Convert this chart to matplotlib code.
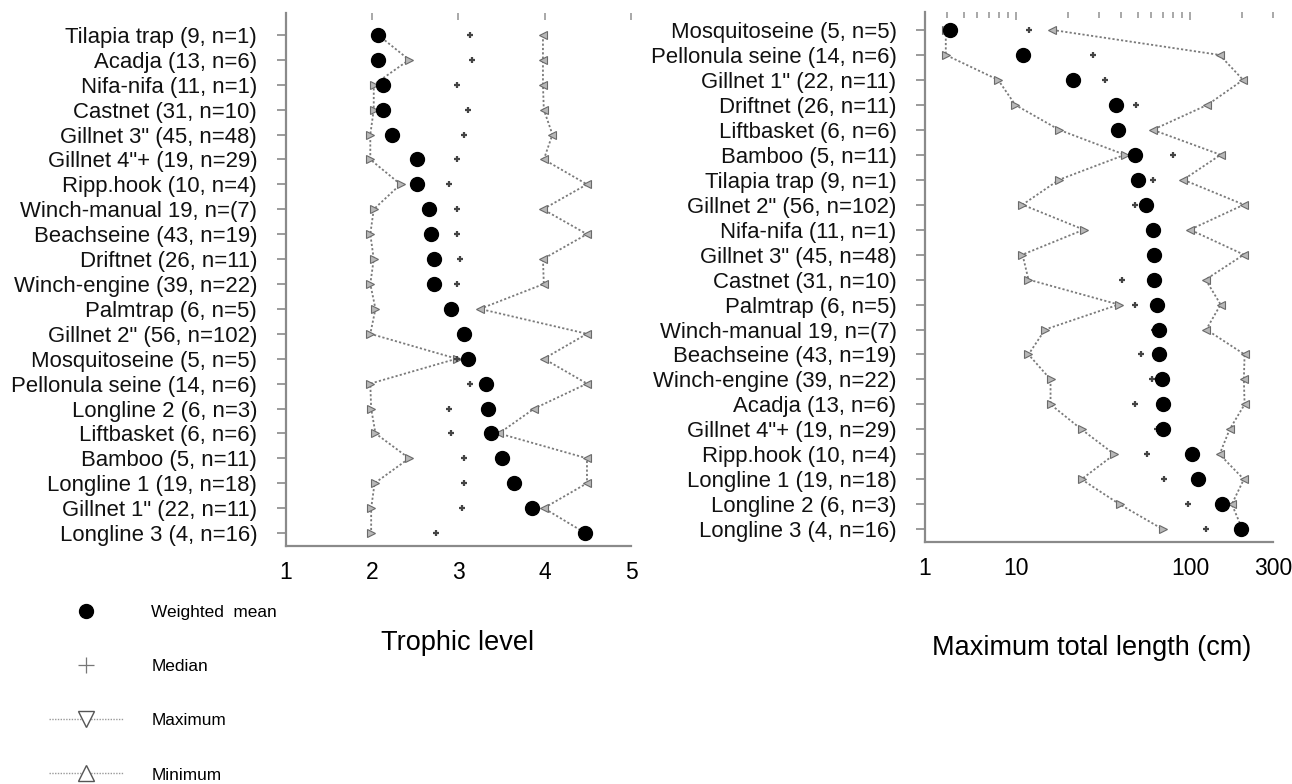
import matplotlib
matplotlib.use("Agg")
import matplotlib.pyplot as plt
from matplotlib.lines import Line2D
import numpy as np

plt.rcParams['font.family'] = ['Liberation Sans', 'DejaVu Sans']

# ---------------- data: trophic level ----------------
tl_labels = ['Tilapia trap (9, n=1)', 'Acadja (13, n=6)', 'Nifa-nifa (11, n=1)', 'Castnet (31, n=10)',
             'Gillnet 3" (45, n=48)', 'Gillnet 4"+ (19, n=29)', 'Ripp.hook (10, n=4)', 'Winch-manual 19, n=(7)',
             'Beachseine (43, n=19)', 'Driftnet (26, n=11)', 'Winch-engine (39, n=22)', 'Palmtrap (6, n=5)',
             'Gillnet 2" (56, n=102)', 'Mosquitoseine (5, n=5)', 'Pellonula seine (14, n=6)', 'Longline 2 (6, n=3)',
             'Liftbasket (6, n=6)', 'Bamboo (5, n=11)', 'Longline 1 (19, n=18)', 'Gillnet 1" (22, n=11)',
             'Longline 3 (4, n=16)']
tl_mean = [2.07, 2.07, 2.13, 2.13, 2.23, 2.52, 2.52, 2.66, 2.68, 2.72, 2.72, 2.92, 3.07, 3.11, 3.32, 3.34,
           3.38, 3.51, 3.65, 3.85, 4.47]
tl_median = [3.13, 3.16, 2.99, 3.11, 3.07, 2.99, 2.89, 2.99, 2.99, 3.02, 2.99, 2.92, 3.07, 2.98, 3.13, 2.89,
             2.91, 3.07, 3.07, 3.04, 2.74]
tl_min = [2.07, 2.43, 2.02, 2.02, 1.98, 1.98, 2.33, 2.02, 1.98, 2.02, 1.98, 2.04, 1.98, 2.98, 1.98, 1.99,
          2.04, 2.43, 2.03, 1.99, 1.99]
tl_max = [3.98, 3.98, 3.98, 3.99, 4.09, 3.99, 4.49, 3.98, 4.49, 3.98, 3.99, 3.25, 4.49, 3.99, 4.49, 3.88,
          3.47, 4.49, 4.49, 3.99, 4.47]
tl_ticks = [1, 2, 3, 4, 5]

# ---------------- data: maximum total length ----------------
ml_labels = ['Mosquitoseine (5, n=5)', 'Pellonula seine (14, n=6)', 'Gillnet 1" (22, n=11)', 'Driftnet (26, n=11)',
             'Liftbasket (6, n=6)', 'Bamboo (5, n=11)', 'Tilapia trap (9, n=1)', 'Gillnet 2" (56, n=102)',
             'Nifa-nifa (11, n=1)', 'Gillnet 3" (45, n=48)', 'Castnet (31, n=10)', 'Palmtrap (6, n=5)',
             'Winch-manual 19, n=(7)', 'Beachseine (43, n=19)', 'Winch-engine (39, n=22)', 'Acadja (13, n=6)',
             'Gillnet 4"+ (19, n=29)', 'Ripp.hook (10, n=4)', 'Longline 1 (19, n=18)', 'Longline 2 (6, n=3)',
             'Longline 3 (4, n=16)']
ml_mean = [4.2, 11.0, 21.3, 37.6, 38.5, 48.5, 50, 56.1, 61.1, 62, 62.5, 64.7, 66.5, 66.5, 68.9, 69.7, 70.3,
           103, 110.7, 153.5, 197]
ml_median = [11.9, 27.8, 32.4, 48.9, 38.5, 79.6, 61, 48.5, 61.1, 62, 40.6, 48.5, 62, 52.5, 60.4, 48.5, 65,
             56.5, 71, 97.7, 124]
ml_min = [3.95, 3.95, 7.9, 9.9, 17.7, 42.2, 17.7, 10.9, 24.5, 10.9, 11.8, 38.9, 14.7, 11.8, 15.8, 15.8, 23.8,
          36.8, 23.8, 39.4, 69.7]
ml_max = [16.2, 148, 202, 126, 61.1, 150, 91.5, 204, 100, 204, 123, 150, 124, 206, 204, 206, 169, 148, 204,
          174, 200]
ml_tick_pos = [3, 10, 100, 300]
ml_tick_lab = ['1', '10', '100', '300']
ml_top_major = [10, 100]
ml_top_minor = [4, 5, 6, 7, 8, 9, 20, 30, 40, 50, 60, 70, 80, 90, 200, 300]

W, H = 1292, 784
fig = plt.figure(figsize=(W / 100, H / 100), dpi=100)

SPINE = '#8a8a8a'
LINEC = '#7a7a7a'
TRI_FACE = '#b8b8b8'
TRI_EDGE = '#6a6a6a'


def draw_panel(ax, labels, mean, median, vmin, vmax):
    y = np.arange(len(labels))
    ax.plot(vmin, y, linestyle=(0, (1.2, 1.2)), color=LINEC, lw=1.3, marker='>', ms=5.5,
            mfc=TRI_FACE, mec=TRI_EDGE, mew=0.8, zorder=2)
    ax.plot(vmax, y, linestyle=(0, (1.2, 1.2)), color=LINEC, lw=1.3, marker='<', ms=5.5,
            mfc=TRI_FACE, mec=TRI_EDGE, mew=0.8, zorder=2)
    ax.plot(median, y, linestyle='none', marker='+', ms=5, mew=1.6, color='#444444', zorder=3)
    ax.plot(mean, y, linestyle='none', marker='o', ms=10, color='black', zorder=4)
    ax.set_yticks(y)
    ax.set_yticklabels(labels, fontsize=15.9, color='#111111')
    ax.tick_params(axis='y', direction='out', length=6.5, width=1.2, color=SPINE, pad=14)
    ax.tick_params(axis='x', length=0, labelsize=16.5, pad=11)
    for s in ('top', 'right'):
        ax.spines[s].set_visible(False)
    for s in ('left', 'bottom'):
        ax.spines[s].set_color(SPINE)
        ax.spines[s].set_linewidth(1.6)


# ---------------- left panel ----------------
axL = fig.add_axes([285.7 / W, 1 - 546 / H, (631 - 285.7) / W, (546 - 13) / H])
draw_panel(axL, tl_labels, tl_mean, tl_median, tl_min, tl_max)
axL.set_xlim(1, 5)
axL.set_ylim(20.52, -0.88)
axL.set_xticks(tl_ticks)
axL.set_xticklabels([str(t) for t in tl_ticks])
axLt = axL.twiny()
axLt.set_xlim(1, 5)
axLt.set_xticks(tl_ticks[1:])
axLt.tick_params(axis='x', direction='in', length=5, width=1.2, color='#999999', labeltop=False)
for s in axLt.spines.values():
    s.set_visible(False)

# ---------------- right panel ----------------
axR = fig.add_axes([925 / W, 1 - 541.7 / H, (1273 - 925) / W, (541.7 - 12) / H])
axR.set_xscale('log')
draw_panel(axR, ml_labels, ml_mean, ml_median, ml_min, ml_max)
axR.set_xlim(3, 300)
axR.set_ylim(20.5, -0.72)
axR.set_xticks(ml_tick_pos)
axR.set_xticklabels(ml_tick_lab)
axR.xaxis.set_minor_locator(matplotlib.ticker.NullLocator())
axRt = axR.twiny()
axRt.set_xscale('log')
axRt.set_xlim(3, 300)
axRt.set_xticks(ml_top_major)
axRt.set_xticks(ml_top_minor, minor=True)
axRt.tick_params(axis='x', which='major', direction='in', length=6, width=1.2, color='#999999', labeltop=False)
axRt.tick_params(axis='x', which='minor', direction='in', length=4, width=1.2, color='#999999', labeltop=False)
for s in axRt.spines.values():
    s.set_visible(False)

# ---------------- axis titles ----------------
fig.text(458 / W, 1 - 643 / H, 'Trophic level', ha='center', va='center', fontsize=19.5)
fig.text(1092 / W, 1 - 648 / H, 'Maximum total length (cm)', ha='center', va='center', fontsize=19.5)

# ---------------- legend ----------------
handles = [
    Line2D([], [], linestyle='none', marker='o', ms=10, color='black'),
    Line2D([], [], linestyle='none', marker='+', ms=11, mew=0.9, color='#777777'),
    Line2D([], [], linestyle=(0, (1, 1)), lw=1.0, color='#999999', marker='v', ms=11,
           mfc='white', mec='#555555', mew=1.0),
    Line2D([], [], linestyle=(0, (1, 1)), lw=1.0, color='#999999', marker='^', ms=11,
           mfc='white', mec='#555555', mew=1.0),
]
leg_labels = ['Weighted  mean', 'Median', 'Maximum', 'Minimum']
fig.legend(handles, leg_labels, loc='upper left', bbox_to_anchor=(49 / W, 1 - 605 / H),
           frameon=False, fontsize=12.4, handlelength=4.35, handletextpad=1.6, labelspacing=2.27,
           borderpad=0, borderaxespad=0)

fig.savefig('out.png', dpi=100)
